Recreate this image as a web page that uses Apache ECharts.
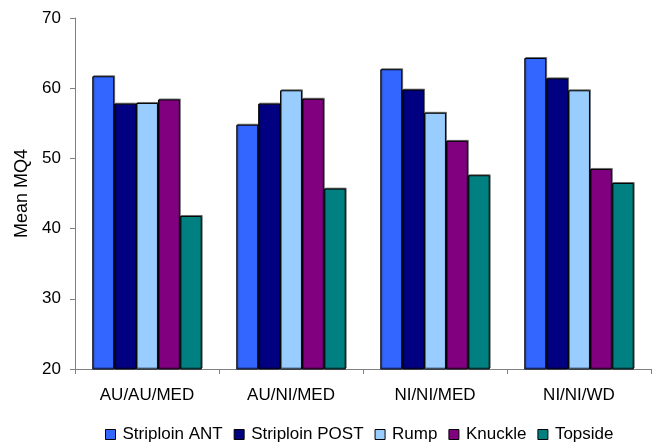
<!DOCTYPE html>
<html>
<head>
<meta charset="utf-8">
<script src="https://cdn.jsdelivr.net/npm/echarts@6/dist/echarts.min.js"></script>
<style>
  html, body { margin: 0; padding: 0; background: #fff; }
  #chart { width: 658px; height: 447px; }
</style>
</head>
<body>
<div id="chart"></div>
<script>
// Mean MQ4 scores by treatment group and cut
const categories = ['AU/AU/MED', 'AU/NI/MED', 'NI/NI/MED', 'NI/NI/WD'];
const striploinAnt  = [61.7, 54.8, 62.7, 64.3];
const striploinPost = [57.8, 57.8, 59.8, 61.4];
const rump          = [57.9, 59.7, 56.5, 59.7];
const knuckle       = [58.4, 58.5, 52.5, 48.5];
const topside       = [41.8, 45.7, 47.6, 46.5];
const yTicks = [20, 30, 40, 50, 60, 70];

const seriesDefs = [
  { name: 'Striploin ANT',  data: striploinAnt,  color: '#3366FF' },
  { name: 'Striploin POST', data: striploinPost, color: '#000080' },
  { name: 'Rump',           data: rump,          color: '#99CCFF' },
  { name: 'Knuckle',        data: knuckle,       color: '#800080' },
  { name: 'Topside',        data: topside,       color: '#008080' }
];

const font = 'Liberation Sans, Arial, sans-serif';
const chart = echarts.init(document.getElementById('chart'), null, { renderer: 'canvas' });

chart.setOption({
  animation: false,
  backgroundColor: '#fff',
  grid: { left: 75, right: 7, top: 18, bottom: 78, containLabel: false },
  legend: {
    top: 421,
    left: 100,
    itemWidth: 10,
    itemHeight: 10,
    itemGap: 11,
    icon: 'rect',
    textStyle: { fontFamily: font, fontSize: 17, color: '#000', padding: [0, 0, 0, 2] },
    data: seriesDefs.map(s => ({ name: s.name, itemStyle: { borderColor: '#000', borderWidth: 1 } }))
  },
  xAxis: {
    type: 'category',
    data: categories,
    boundaryGap: true,
    axisLine: { lineStyle: { color: '#808080', width: 1 } },
    axisTick: { show: true, length: 5, lineStyle: { color: '#808080' } },
    axisLabel: { fontFamily: font, fontSize: 17, color: '#000', margin: 18 },
    splitLine: { show: false }
  },
  yAxis: {
    type: 'value',
    min: yTicks[0],
    max: yTicks[yTicks.length - 1],
    interval: 10,
    name: 'Mean MQ4',
    nameLocation: 'middle',
    nameGap: 44,
    nameRotate: 90,
    nameTextStyle: { fontFamily: font, fontSize: 18, color: '#000' },
    axisLine: { show: true, lineStyle: { color: '#808080', width: 1 } },
    axisTick: { show: true, length: 5, lineStyle: { color: '#808080' } },
    axisLabel: { fontFamily: font, fontSize: 17, color: '#000', margin: 14 },
    splitLine: { show: false }
  },
  series: seriesDefs.map(s => ({
    name: s.name,
    type: 'bar',
    data: s.data,
    barGap: '0%',
    barCategoryGap: '24%',
    itemStyle: {
      color: s.color,
      borderColor: '#000',
      borderWidth: 1,
      shadowColor: 'rgba(0,0,0,0.45)',
      shadowBlur: 0,
      shadowOffsetX: 1,
      shadowOffsetY: -1
    }
  }))
});
</script>
</body>
</html>
